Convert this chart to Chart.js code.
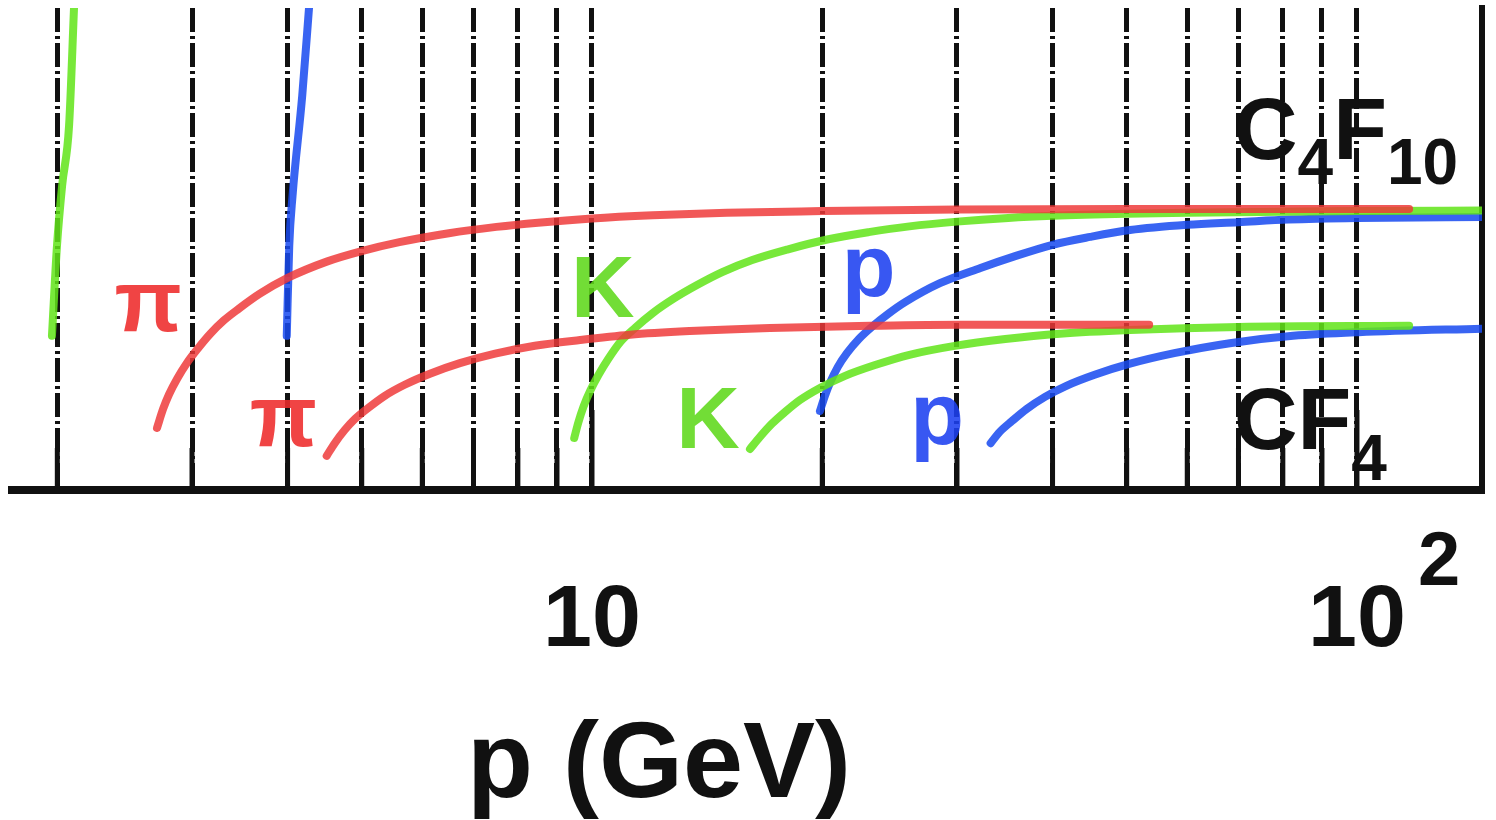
<!DOCTYPE html>
<html>
<head>
<meta charset="utf-8">
<script src="https://cdn.jsdelivr.net/npm/chart.js@4.4.1/dist/chart.umd.min.js"></script>
<style>
  html, body { margin: 0; padding: 0; background: #fff; overflow: hidden; }
  canvas { display: block; }
</style>
</head>
<body>
<canvas id="chart" width="1496" height="820"></canvas>
<script>
// Momentum values (GeV) carrying a vertical grid line, and the decades that get a label
const gridMomenta = [2, 3, 4, 5, 6, 7, 8, 9, 10, 20, 30, 40, 50, 60, 70, 80, 90, 100];
const decadeLabels = [10, 100];

// Cherenkov angle (mrad) against momentum (GeV), C4F10 radiator
const c4f10PionP       = [2.70, 2.75, 2.80, 2.87, 2.95, 3.05, 3.17, 3.30, 3.45, 3.68, 4.00, 4.50, 5.00, 5.60, 6.50, 7.50, 8.50, 10.0, 12.0, 15.0, 20.0, 30.0, 50.0, 117];
const c4f10PionTheta   = [11.4, 15.0, 17.8, 20.8, 23.6, 26.4, 29.3, 31.8, 34.0, 36.9, 39.9, 43.0, 45.0, 46.7, 48.4, 49.6, 50.4, 51.2, 51.8, 52.3, 52.6, 52.9, 53.0, 53.0];
const c4f10KaonP       = [9.48, 9.60, 9.75, 9.95, 10.2, 10.5, 10.9, 11.4, 12.0, 12.8, 13.7, 14.8, 16.2, 18.0, 20.3, 23.0, 26.0, 30.0, 35.0, 40.0, 50.0, 60.0, 80.0, 100, 149];
const c4f10KaonTheta   = [9.5, 12.5, 15.5, 18.5, 21.5, 24.5, 27.8, 30.5, 33.2, 36.0, 38.5, 41.0, 43.3, 45.3, 47.2, 48.6, 49.7, 50.6, 51.3, 51.7, 52.1, 52.3, 52.5, 52.6, 52.7];
const c4f10ProtonP     = [19.86, 20.16, 20.46, 20.96, 21.54, 22.33, 23.31, 24.4, 25.66, 28.5, 32.2, 35.5, 40.0, 44.8, 50.5, 60.0, 70.0, 81.4, 100, 149];
const c4f10ProtonTheta = [14.6, 17.5, 19.9, 23.0, 25.6, 28.3, 30.8, 33.1, 35.3, 38.9, 41.8, 43.9, 46.2, 47.7, 49.0, 50.0, 50.5, 51.0, 51.3, 51.5];

// CF4 radiator
const cf4PionP       = [4.50, 4.61, 4.75, 4.90, 5.10, 5.36, 5.69, 6.14, 6.72, 7.47, 8.42, 9.65, 11.21, 13.43, 17.08, 23.1, 30.3, 53.5];
const cf4PionTheta   = [6.1, 8.5, 11.0, 13.1, 15.2, 17.5, 19.6, 21.7, 23.7, 25.5, 27.0, 28.1, 29.1, 29.8, 30.4, 30.8, 31.0, 31.0];
const cf4KaonP       = [16.09, 16.58, 17.19, 17.87, 18.70, 19.86, 21.42, 23.5, 26.0, 29.8, 34.7, 40.9, 50.5, 70.0, 117];
const cf4KaonTheta   = [7.4, 9.7, 12.2, 14.4, 16.7, 19.0, 21.3, 23.4, 25.3, 27.0, 28.3, 29.3, 30.0, 30.6, 30.8];
const cf4ProtonP     = [33.2, 34.1, 35.4, 37.0, 39.1, 41.7, 45.4, 50.5, 57.7, 68.2, 82.5, 100.5, 149];
const cf4ProtonTheta = [8.5, 10.6, 12.7, 15.0, 17.3, 19.4, 21.5, 23.6, 25.6, 27.5, 28.9, 29.6, 30.3];

// Aerogel radiator (steep rise, leaves the frame at the top)
const aeroKaonP       = [1.968, 1.998, 2.029, 2.072, 2.104];
const aeroKaonTheta   = [28.9, 46.0, 57.4, 68.8, 91.9];
const aeroProtonP     = [3.99, 4.02, 4.06, 4.18, 4.27];
const aeroProtonTheta = [28.9, 46.0, 55.5, 74.5, 91.9];

// Axis ranges
const pRange = [1.745, 145.7];
const thetaRange = [-0.4, 91.2];

const RED = 'rgba(238, 56, 56, 0.84)';
const GREEN = 'rgba(98, 228, 26, 0.86)';
const BLUE = 'rgba(24, 74, 240, 0.86)';
const FONT = '"Liberation Sans", Arial, Helvetica, sans-serif';

// Particle tags anchored at (momentum, angle) of their text baseline centre
const particleTags = [
  { text: 'π', color: '#ee2a2a', p: 2.63,  theta: 29.8 },
  { text: 'π', color: '#ee2a2a', p: 3.95,  theta: 8.0 },
  { text: 'K', color: '#5ed81a', p: 10.33, theta: 32.5 },
  { text: 'K', color: '#5ed81a', p: 14.18, theta: 7.6 },
  { text: 'p', color: '#1c40f0', p: 23.0,  theta: 36.5 },
  { text: 'p', color: '#1c40f0', p: 28.25, theta: 8.4 }
];

// Radiator names: pieces of text, subscripts drop below the baseline
const radiatorTags = [
  { p: 69.9, theta: 62.5, parts: [['C', false], ['4', true], ['F', false], ['10', true]], drop: 25 },
  { p: 69.9, theta: 7.4,  parts: [['C', false], ['F', false], ['4', true]], drop: 31 }
];

function pairs(ps, ts) { return ps.map((p, i) => ({ x: p, y: ts[i] })); }

function curve(label, ps, ts, color) {
  return {
    label,
    data: pairs(ps, ts),
    borderColor: color,
    borderWidth: 8,
    borderCapStyle: 'round',
    borderJoinStyle: 'round',
    pointRadius: 0,
    fill: false,
    cubicInterpolationMode: 'monotone'
  };
}

const decorations = {
  id: 'decorations',
  beforeDatasetsDraw(chart) {
    const { ctx, scales: { x, y } } = chart;
    ctx.save();
    ctx.globalAlpha = 0.88;
    ctx.font = 'bold 88px ' + FONT;
    ctx.textAlign = 'center';
    ctx.textBaseline = 'alphabetic';
    particleTags.forEach(t => {
      ctx.fillStyle = t.color;
      ctx.fillText(t.text, x.getPixelForValue(t.p), y.getPixelForValue(t.theta));
    });
    ctx.restore();
  },
  afterDraw(chart) {
    const { ctx, chartArea, scales: { x, y } } = chart;
    ctx.save();

    // inward tick marks along the momentum axis
    ctx.setLineDash([]);
    ctx.strokeStyle = '#111';
    ctx.lineWidth = 5;
    gridMomenta.forEach(v => {
      const px = x.getPixelForValue(v);
      const len = decadeLabels.includes(v) ? 80 : 42;
      ctx.beginPath();
      ctx.moveTo(px, chartArea.bottom);
      ctx.lineTo(px, chartArea.bottom - len);
      ctx.stroke();
    });

    ctx.fillStyle = '#111';
    ctx.textBaseline = 'alphabetic';

    // decade labels: 10 and 10^2
    const base = chartArea.bottom + 156;
    ctx.font = 'bold 88px ' + FONT;
    ctx.textAlign = 'center';
    const x10 = x.getPixelForValue(decadeLabels[0]);
    ctx.fillText('10', x10, base);
    const x100 = x.getPixelForValue(decadeLabels[1]);
    ctx.fillText('10', x100, base);
    const half = ctx.measureText('10').width / 2;
    ctx.font = 'bold 76px ' + FONT;
    ctx.textAlign = 'left';
    ctx.fillText('2', x100 + half + 12, base - 61);

    // axis title
    ctx.font = 'bold 108px ' + FONT;
    ctx.textAlign = 'left';
    ctx.fillText('p (GeV)', 467, chartArea.bottom + 307);

    // radiator names
    radiatorTags.forEach(tag => {
      let px = x.getPixelForValue(tag.p) - 4;
      const py = y.getPixelForValue(tag.theta);
      tag.parts.forEach(([txt, sub]) => {
        ctx.font = 'bold ' + (sub ? 64 : 88) + 'px ' + FONT;
        ctx.fillText(txt, px, py + (sub ? tag.drop : 0));
        px += ctx.measureText(txt).width;
      });
    });
    ctx.restore();
  }
};

new Chart(document.getElementById('chart'), {
  type: 'line',
  data: {
    datasets: [
      curve('π C4F10', c4f10PionP, c4f10PionTheta, RED),
      curve('π CF4', cf4PionP, cf4PionTheta, RED),
      curve('K C4F10', c4f10KaonP, c4f10KaonTheta, GREEN),
      curve('K CF4', cf4KaonP, cf4KaonTheta, GREEN),
      curve('K aerogel', aeroKaonP, aeroKaonTheta, GREEN),
      curve('p C4F10', c4f10ProtonP, c4f10ProtonTheta, BLUE),
      curve('p CF4', cf4ProtonP, cf4ProtonTheta, BLUE),
      curve('p aerogel', aeroProtonP, aeroProtonTheta, BLUE)
    ]
  },
  options: {
    responsive: false,
    devicePixelRatio: 1,
    animation: false,
    events: [],
    layout: { padding: { left: 12, top: 8, right: 14, bottom: 330 } },
    plugins: { legend: { display: false }, tooltip: { enabled: false } },
    scales: {
      x: {
        type: 'logarithmic',
        min: pRange[0],
        max: pRange[1],
        afterBuildTicks: s => { s.ticks = gridMomenta.map(v => ({ value: v })); },
        afterFit: s => { s.height = 0; },
        ticks: { display: false },
        grid: { color: '#111', lineWidth: 5, drawTicks: false },
        border: { display: true, color: '#111', width: 8, dash: [24, 4, 3, 4] }
      },
      y: {
        type: 'linear',
        position: 'right',
        min: thetaRange[0],
        max: thetaRange[1],
        afterFit: s => { s.width = 0; },
        ticks: { display: false },
        grid: { display: false, drawTicks: false },
        border: { display: true, color: '#111', width: 6 }
      }
    }
  },
  plugins: [decorations]
});
</script>
</body>
</html>
